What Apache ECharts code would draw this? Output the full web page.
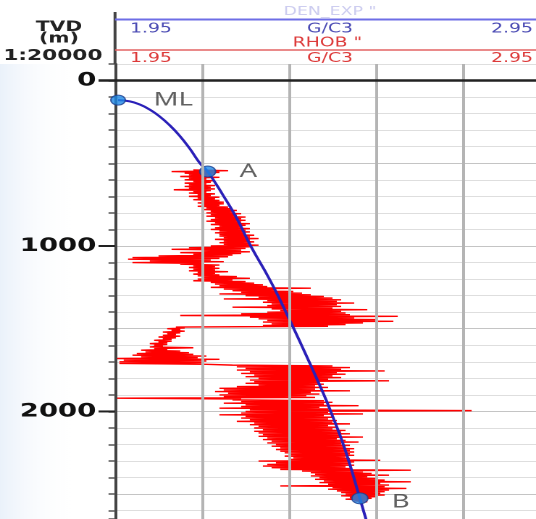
<!DOCTYPE html>
<html><head><meta charset="utf-8">
<script src="https://cdn.jsdelivr.net/npm/echarts@6/dist/echarts.min.js"></script>
<style>
html,body{margin:0;padding:0;background:#fff;overflow:hidden;width:536px;height:519px}
#c{width:370px;height:519px;transform:scaleX(1.448649);transform-origin:0 0;}
</style>
</head><body><div id="c"></div>
<script>
// ---- data ----
const depthLabels = [0, 1000, 2000];
const densityGrid = [2.15, 2.35, 2.55, 2.75];
const scaleTexts = ['1.95', 'G/C3', '2.95'];
const trackNames = ['DEN_EXP "', 'RHOB "'];
const depthHeader = ['TVD', '(m)', '1:20000'];
const wellPointNames = ['ML', 'A', 'B'];
const wellPointDepth = [118, 550, 2525];
const wellPointDensity = [1.957, 2.163, 2.513];
// DEN_EXP trajectory (blue)
const denExpDepth = [118, 126, 145, 176, 218, 271, 335, 412, 499, 550, 700, 833, 1000, 1200, 1400, 1629, 1891, 2000, 2223, 2525, 2660];
const denExpValue = [1.957, 1.984, 2.007, 2.030, 2.053, 2.076, 2.099, 2.122, 2.145, 2.163, 2.200, 2.230, 2.262, 2.305, 2.343, 2.384, 2.429, 2.446, 2.478, 2.513, 2.528];
// RHOB log (red), sampled every 5 m from 540 m
const rhobStartDepth = 540;
const rhobStep = 5;
const rhob = [
 2.13,2.21,2.08,2.19,2.11,2.18,2.12,2.17,2.10,2.19,2.12,2.16,2.11,2.18,2.13,2.17,2.11,2.16,2.12,2.18,
 2.11,2.17,2.12,2.18,2.085,2.17,2.13,2.16,2.12,2.18,2.14,2.17,2.12,2.19,2.14,2.18,2.13,2.19,2.15,2.20,
 2.14,2.20,2.15,2.19,2.14,2.21,2.16,2.22,2.15,2.23,2.17,2.22,2.16,2.24,2.17,2.23,2.16,2.25,2.18,2.24,
 2.17,2.25,2.16,2.24,2.18,2.26,2.17,2.25,2.19,2.24,2.18,2.26,2.17,2.25,2.19,2.26,2.18,2.25,2.19,2.27,
 2.19,2.26,2.20,2.28,2.18,2.26,2.20,2.27,2.19,2.26,2.20,2.28,2.17,2.26,2.12,2.25,2.08,2.24,2.15,2.26,
 2.10,2.24,2.13,2.22,2.05,2.21,1.99,2.19,1.98,2.17,2.03,2.20,1.99,2.15,2.10,2.19,2.13,2.18,2.12,2.19,
 2.13,2.18,2.12,2.21,2.14,2.18,2.13,2.19,2.14,2.23,2.15,2.26,2.14,2.22,2.13,2.25,2.17,2.27,2.18,2.29,
 2.19,2.30,2.17,2.40,2.20,2.32,2.22,2.36,2.24,2.38,2.19,2.40,2.25,2.43,2.28,2.45,2.20,2.47,2.30,2.46,
 2.29,2.50,2.31,2.46,2.30,2.47,2.22,2.45,2.31,2.53,2.33,2.47,2.30,2.48,2.24,2.49,2.10,2.60,2.26,2.50,
 2.28,2.55,2.30,2.59,2.29,2.52,2.31,2.48,2.29,2.44,2.09,2.11,2.07,2.10,2.08,2.11,2.06,2.10,2.07,2.09,
 2.06,2.10,2.05,2.09,2.06,2.08,2.04,2.08,2.05,2.07,2.03,2.07,2.04,2.06,2.03,2.13,2.04,2.07,2.01,2.10,
 2.02,2.12,2.00,2.13,1.99,2.16,2.01,2.14,1.955,2.19,1.97,2.16,1.96,2.15,1.96,2.16,2.22,2.45,2.23,2.49,
 2.25,2.47,2.23,2.57,2.26,2.46,2.24,2.48,2.27,2.45,2.25,2.47,2.28,2.44,2.26,2.58,2.27,2.42,2.25,2.43,
 2.28,2.41,2.23,2.44,2.19,2.41,2.20,2.49,2.18,2.40,2.21,2.42,2.19,2.39,2.20,2.41,1.955,2.24,2.22,2.43,
 2.24,2.45,2.20,2.43,2.25,2.51,2.24,2.42,2.19,2.44,2.26,2.77,2.25,2.44,2.24,2.52,2.19,2.43,2.25,2.45,
 2.24,2.44,2.26,2.46,2.23,2.45,2.27,2.49,2.26,2.44,2.28,2.46,2.27,2.45,2.29,2.48,2.27,2.47,2.28,2.49,
 2.29,2.47,2.28,2.52,2.30,2.46,2.29,2.48,2.31,2.51,2.30,2.47,2.32,2.49,2.31,2.48,2.33,2.50,2.32,2.49,
 2.33,2.50,2.34,2.49,2.35,2.50,2.34,2.48,2.36,2.49,2.35,2.56,2.28,2.50,2.32,2.49,2.30,2.50,2.29,2.48,
 2.31,2.49,2.33,2.63,2.38,2.52,2.40,2.54,2.41,2.58,2.40,2.53,2.42,2.55,2.41,2.57,2.43,2.63,2.42,2.56,
 2.44,2.58,2.33,2.57,2.45,2.62,2.44,2.58,2.46,2.57,2.47,2.56,2.48,2.57,2.47,2.55,2.49,2.54,2.48,2.53,
 2.50,2.53,2.51
];

// ---- chart ----
const chart = echarts.init(document.getElementById('c'), null, {devicePixelRatio: 2});
const labelGap = [19, 16, 16];
const labelDy = [0, 0, 4];
const option = {
  animation: false,
  backgroundColor: '#fff',
  // the track (1.95 .. 2.95) runs past the right edge of the picture; the visible part ends near 2.918
  grid: {left: 79.4, right: 0, top: 64, bottom: 0, containLabel: false},
  xAxis: {type: 'value', min: 1.95, max: 2.918, show: false},
  yAxis: {
    type: 'value', inverse: true, min: -100, max: 2650, interval: 100,
    axisLine: {show: true, onZero: false, lineStyle: {color: '#444', width: 2}},
    axisTick: {show: true, length: 4.5, lineStyle: {color: '#555', width: 1.5}},
    axisLabel: {show: false},
    splitLine: {show: true, lineStyle: {color: ['#dedede', '#c4c4c4', '#dedede', '#dedede', '#dedede'], width: 1}}
  },
  series: [
    {type: 'line', z: 1, data: [], silent: true,
     markLine: {silent: true, symbol: ['none', 'none'], label: {show: false},
       lineStyle: {color: '#b4b4b4', width: 2, type: 'solid'},
       data: densityGrid.map(v => ({xAxis: v}))}},
    {type: 'line', z: 2, name: 'RHOB', showSymbol: false, silent: true, sampling: null,
     lineStyle: {color: '#ff0000', width: 1.4},
     data: rhob.map((v, i) => [v, rhobStartDepth + i * rhobStep])},
    {type: 'line', z: 3, name: 'DEN_EXP', showSymbol: false, smooth: true, silent: true,
     lineStyle: {color: '#2a20b8', width: 2},
     data: denExpDepth.map((d, i) => [denExpValue[i], d])},
    {type: 'scatter', z: 4, silent: true,
     itemStyle: {color: '#1e88e5', borderColor: '#1b3d8f', borderWidth: 1},
     data: wellPointNames.map((n, i) => ({
       name: n, value: [wellPointDensity[i], wellPointDepth[i]],
       symbolSize: i === 0 ? 10 : 11,
       label: {show: true, formatter: n, position: 'right', distance: labelGap[i], offset: [0, labelDy[i]],
         fontFamily: 'Noto Sans', fontSize: 19, color: '#3a3a3a'}
     }))}
  ]
};
chart.setOption(option);

const P = (x, y) => chart.convertToPixel({xAxisIndex: 0, yAxisIndex: 0}, [x, y]);
const axisX = P(1.95, 0)[0];
const W = 370;
const g = [];
// faint tint of the depth column
g.push({type: 'rect', z: -10, shape: {x: 0, y: 64, width: 50, height: 455},
  style: {fill: new echarts.graphic.LinearGradient(0, 0, 1, 0, [
    {offset: 0, color: 'rgba(232,240,250,0.9)'}, {offset: 1, color: 'rgba(255,255,255,0)'}])}});
// header lines
g.push({type: 'line', z: 20, shape: {x1: axisX, y1: 12, x2: axisX, y2: 64}, style: {stroke: '#444', lineWidth: 2}});
g.push({type: 'line', z: 20, shape: {x1: axisX, y1: 19.5, x2: W, y2: 19.5}, style: {stroke: '#6e6ee6', lineWidth: 2}});
g.push({type: 'line', z: 20, shape: {x1: axisX, y1: 50, x2: W, y2: 50}, style: {stroke: '#e46464', lineWidth: 1.5}});
// header texts
const T = (text, x, y, align, font, fill) => ({type: 'text', z: 20, x: x, y: y,
  style: {text: text, font: font, fill: fill, align: align, verticalAlign: 'middle'}});
g.push(T(trackNames[0], 227.8, 12, 'center', '12px "DejaVu Sans"', '#cdcdf0'));
g.push(T(scaleTexts[0], 89.7, 29, 'left', '13px "DejaVu Sans"', '#4b4bb4'));
g.push(T(scaleTexts[1], 227.8, 29, 'center', '13px "DejaVu Sans"', '#4b4bb4'));
g.push(T(scaleTexts[2], 367.9, 29, 'right', '13px "DejaVu Sans"', '#4b4bb4'));
g.push(T(trackNames[1], 226, 43, 'center', '13px "DejaVu Sans"', '#dd3a3a'));
g.push(T(scaleTexts[0], 89.7, 58.5, 'left', '13px "DejaVu Sans"', '#dd3a3a'));
g.push(T(scaleTexts[1], 227.8, 58.5, 'center', '13px "DejaVu Sans"', '#dd3a3a'));
g.push(T(scaleTexts[2], 367.9, 58.5, 'right', '13px "DejaVu Sans"', '#dd3a3a'));
g.push(T(depthHeader[0], 40.7, 27.5, 'center', 'bold 14px "DejaVu Sans"', '#222'));
g.push(T(depthHeader[1], 40.7, 39, 'center', 'bold 14px "DejaVu Sans"', '#222'));
g.push(T(depthHeader[2], 36.5, 56, 'center', 'bold 15px "DejaVu Sans"', '#222'));
// depth labels, long ticks, zero line
depthLabels.forEach(v => {
  const y = P(1.95, v)[1];
  g.push(T(String(v), 66.5, y, 'right', 'bold 19px "DejaVu Sans"', '#111'));
  g.push({type: 'line', z: 20, shape: {x1: 68, y1: y, x2: v === 0 ? W : axisX, y2: y},
    style: {stroke: '#222', lineWidth: v === 0 ? 2.5 : 2}});
});
chart.setOption({graphic: g});
</script>
</body></html>
